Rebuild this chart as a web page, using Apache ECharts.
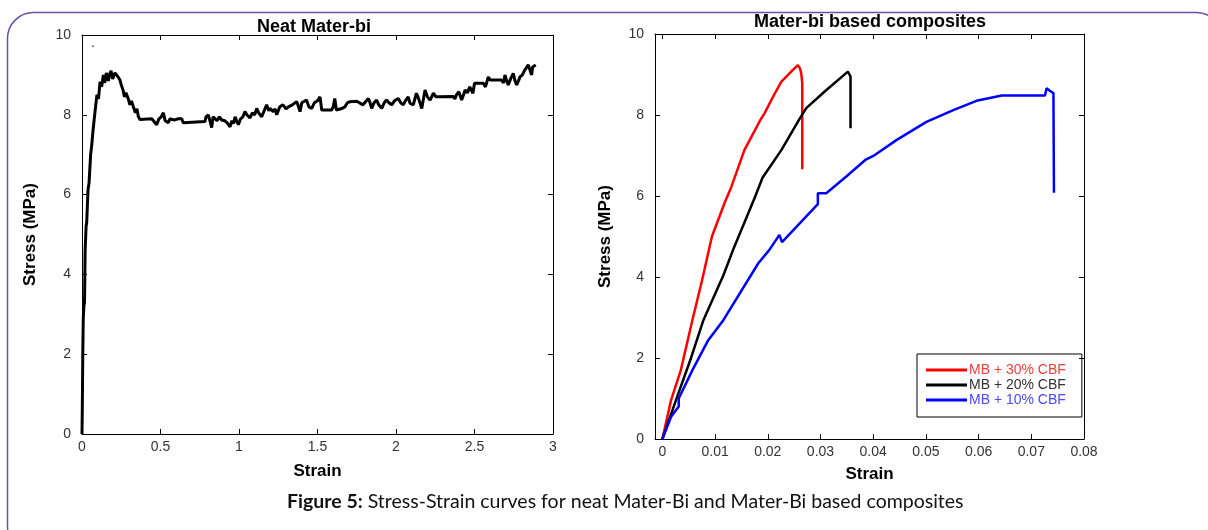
<!DOCTYPE html>
<html>
<head>
<meta charset="utf-8">
<script src="https://cdn.jsdelivr.net/npm/echarts@6/dist/echarts.min.js"></script>
<style>
html,body{margin:0;padding:0;background:#fff;}
#chart{width:1208px;height:530px;}
</style>
</head>
<body>
<div id="chart"></div>
<script>
// ---------- data ----------
const leftTitle = 'Neat Mater-bi';
const rightTitle = 'Mater-bi based composites';
const xAxisTitle = 'Strain';
const yAxisTitle = 'Stress (MPa)';
const captionBold = 'Figure 5:';
const captionText = ' Stress-Strain curves for neat Mater-Bi and Mater-Bi based composites';

const leftXTicks = [0, 0.5, 1, 1.5, 2, 2.5, 3];
const rightXTicks = [0, 0.01, 0.02, 0.03, 0.04, 0.05, 0.06, 0.07, 0.08];
const yTicks = [0, 2, 4, 6, 8, 10];

const seriesNames = ['MB + 30% CBF', 'MB + 20% CBF', 'MB + 10% CBF'];
const seriesColors = ['#ff0000', '#000000', '#0000ff'];
const legendTextColors = ['#e8413a', '#333333', '#4a4af0'];

// neat Mater-bi  [strain, stress MPa]
const neatCurve = [
 [0,0],[0.002,0.05],[0.002,0.65],[0.004,0.7],[0.005,2.0],[0.008,2.9],[0.012,3.2],[0.016,3.3],
 [0.02,4.6],[0.026,5.2],[0.03,5.3],[0.038,6.1],[0.045,6.3],[0.055,7.0],[0.062,7.24],[0.07,7.6],
 [0.083,8.08],[0.095,8.5],[0.105,8.4],[0.115,8.83],[0.125,8.7],[0.136,9.0],[0.145,8.8],[0.155,9.05],
 [0.168,8.85],[0.175,9.0],[0.185,9.1],[0.195,8.9],[0.2,8.85],[0.21,9.05],[0.22,9.0],[0.23,8.95],
 [0.242,8.87],[0.25,8.75],[0.263,8.6],[0.27,8.45],[0.28,8.55],[0.295,8.4],[0.305,8.25],[0.315,8.35],
 [0.327,8.2],[0.34,8.05],[0.35,8.15],[0.359,7.95],[0.37,7.88],[0.38,7.9],[0.444,7.9],[0.455,7.85],
 [0.476,7.75],[0.49,7.9],[0.505,7.95],[0.518,8.05],[0.53,7.85],[0.55,7.8],[0.56,7.9],[0.575,7.88],
 [0.592,7.87],[0.61,7.9],[0.635,7.9],[0.645,7.8],[0.656,7.83],[0.783,7.83],[0.79,7.95],[0.804,8.0],
 [0.815,7.85],[0.826,7.68],[0.835,7.95],[0.847,7.9],[0.86,7.85],[0.875,7.95],[0.89,7.87],[0.91,7.85],
 [0.925,7.8],[0.943,7.7],[0.955,7.85],[0.965,7.78],[0.975,7.95],[0.985,7.85],[0.996,7.75],[1.01,7.9],
 [1.025,7.95],[1.038,8.08],[1.05,8.0],[1.07,7.92],[1.085,8.05],[1.1,8.0],[1.113,8.16],[1.125,8.05],
 [1.145,7.95],[1.16,8.1],[1.176,8.25],[1.19,8.1],[1.197,8.16],[1.218,8.08],[1.23,8.15],[1.24,8.0],
 [1.26,8.2],[1.28,8.25],[1.3,8.15],[1.314,8.2],[1.34,8.25],[1.367,8.33],[1.375,8.25],[1.389,8.08],
 [1.4,8.3],[1.43,8.37],[1.445,8.2],[1.463,8.16],[1.48,8.3],[1.5,8.35],[1.516,8.45],[1.527,8.12],
 [1.59,8.12],[1.6,8.2],[1.61,8.41],[1.62,8.12],[1.65,8.15],[1.675,8.2],[1.69,8.3],[1.707,8.33],
 [1.75,8.34],[1.79,8.25],[1.8,8.3],[1.824,8.41],[1.835,8.3],[1.845,8.16],[1.86,8.3],[1.877,8.37],
 [1.89,8.25],[1.909,8.16],[1.925,8.3],[1.94,8.37],[1.955,8.3],[1.973,8.25],[1.99,8.35],[2.015,8.41],
 [2.03,8.3],[2.046,8.25],[2.06,8.35],[2.078,8.45],[2.089,8.29],[2.11,8.25],[2.13,8.54],[2.14,8.45],
 [2.164,8.16],[2.175,8.4],[2.185,8.62],[2.2,8.45],[2.217,8.37],[2.238,8.54],[2.255,8.45],[2.27,8.45],
 [2.365,8.46],[2.375,8.4],[2.385,8.5],[2.4,8.58],[2.418,8.37],[2.43,8.5],[2.44,8.62],[2.455,8.55],
 [2.47,8.7],[2.49,8.54],[2.5,8.79],[2.556,8.79],[2.57,8.7],[2.578,8.66],[2.588,8.95],[2.6,8.87],
 [2.673,8.87],[2.685,8.8],[2.694,9.0],[2.705,8.85],[2.715,8.75],[2.73,8.9],[2.747,9.04],[2.758,8.85],
 [2.769,8.75],[2.78,8.85],[2.79,8.95],[2.805,9.0],[2.82,9.12],[2.843,9.25],[2.855,9.1],[2.864,9.0],
 [2.87,9.2],[2.875,9.25],[2.89,9.25]
];
const neatStrayDot = [[0.07, 9.72]];

// composites [strain, stress MPa]
const cbf30 = [
 [0,0],[0.00165,0.96],[0.0035,1.70],[0.0057,2.94],[0.0075,3.9],[0.0094,5.0],[0.01178,5.82],
 [0.0131,6.23],[0.01558,7.14],[0.0186,7.88],[0.01938,8.04],[0.021,8.45],[0.02255,8.82],
 [0.0245,9.08],[0.02572,9.23],[0.0261,9.15],[0.02635,9.03],[0.02654,8.79],[0.02654,6.66]
];
const cbf20 = [
 [0,0],[0.0028,1.04],[0.0053,1.95],[0.0078,2.94],[0.0116,4.05],[0.0135,4.7],[0.0175,5.95],
 [0.019,6.45],[0.0226,7.14],[0.026,7.9],[0.0273,8.17],[0.0308,8.58],[0.0352,9.07],
 [0.0357,8.95],[0.0357,7.67]
];
const cbf10 = [
 [0,0],[0.00165,0.55],[0.0031,0.8],[0.0031,1.0],[0.0057,1.70],[0.0087,2.44],[0.0116,2.94],
 [0.0182,4.34],[0.0203,4.67],[0.0222,5.04],[0.0227,4.86],[0.0295,5.80],[0.0295,6.07],
 [0.0311,6.07],[0.0349,6.48],[0.0385,6.89],[0.0403,7.01],[0.0444,7.38],[0.0501,7.83],
 [0.0552,8.12],[0.0596,8.35],[0.0644,8.48],[0.0726,8.48],[0.0729,8.66],[0.0735,8.6],
 [0.0742,8.54],[0.0743,6.08]
];

// ---------- chart ----------
const FONT = 'Liberation Sans';
const chart = echarts.init(document.getElementById('chart'), null, {renderer: 'canvas'});

function boxAxis(gridIndex, pos, min, max, ticks, showLabel, name, nameGap) {
  const isX = pos === 'bottom' || pos === 'top';
  const ax = {
    type: 'value', gridIndex: gridIndex, position: pos, min: min, max: max,
    axisLine: {show: true, onZero: false, lineStyle: {color: '#000', width: 1}},
    axisTick: {show: true, inside: true, length: 5, lineStyle: {color: '#000'}, customValues: ticks},
    axisLabel: {show: showLabel, color: '#333', fontSize: 14, fontFamily: FONT,
                margin: isX ? 6 : 11, customValues: ticks, formatter: v => String(v)},
    splitLine: {show: false}
  };
  if (name) {
    ax.name = name; ax.nameLocation = 'middle'; ax.nameGap = nameGap;
    ax.nameTextStyle = {fontSize: 17, fontWeight: 'bold', color: '#000', fontFamily: FONT};
    if (!isX) ax.nameRotate = 90;
  }
  return ax;
}

const legendData = seriesNames.map((n, i) => ({name: n, textStyle: {color: legendTextColors[i]}}));

const option = {
  backgroundColor: '#fff',
  animation: false,
  title: [
    {text: leftTitle, left: 314, top: 18, textAlign: 'center', padding: 0,
     textStyle: {fontSize: 18, fontWeight: 'bold', color: '#000', fontFamily: FONT}},
    {text: rightTitle, left: 870, top: 13, textAlign: 'center', padding: 0,
     textStyle: {fontSize: 18, fontWeight: 'bold', color: '#000', fontFamily: FONT}}
  ],
  grid: [
    {left: 82, top: 35, width: 471, height: 399},
    {left: 655, top: 34, width: 429, height: 405}
  ],
  xAxis: [
    boxAxis(0, 'bottom', 0, 3, leftXTicks, true, xAxisTitle, 29),
    boxAxis(0, 'top', 0, 3, leftXTicks, false),
    boxAxis(1, 'bottom', -0.0014, 0.08, rightXTicks, true, xAxisTitle, 27),
    boxAxis(1, 'top', -0.0014, 0.08, rightXTicks, false)
  ],
  yAxis: [
    boxAxis(0, 'left', 0, 10, yTicks, true, yAxisTitle, 43),
    boxAxis(0, 'right', 0, 10, yTicks, false),
    boxAxis(1, 'left', 0, 10, yTicks, true, yAxisTitle, 41),
    boxAxis(1, 'right', 0, 10, yTicks, false)
  ],
  legend: {
    data: legendData,
    orient: 'vertical',
    left: 917, top: 354,
    padding: [9, 16, 10, 9],
    itemGap: 1,
    itemWidth: 41, itemHeight: 3,
    icon: 'rect',
    borderColor: '#000', borderWidth: 1,
    textStyle: {fontSize: 14, fontFamily: FONT, padding: [0, 0, 0, -3]},
    selectedMode: false
  },
  series: [
    {type: 'line', name: 'Neat Mater-bi', xAxisIndex: 0, yAxisIndex: 0, data: neatCurve,
     showSymbol: false, symbol: 'none', lineStyle: {color: '#000', width: 3}, itemStyle: {color: '#000'}},
    {type: 'scatter', name: 'dot', xAxisIndex: 0, yAxisIndex: 0, data: neatStrayDot,
     symbolSize: 2, itemStyle: {color: '#444'}},
    {type: 'line', name: seriesNames[0], xAxisIndex: 2, yAxisIndex: 2, data: cbf30,
     symbol: 'none', lineStyle: {color: seriesColors[0], width: 2.5}, itemStyle: {color: seriesColors[0]}},
    {type: 'line', name: seriesNames[1], xAxisIndex: 2, yAxisIndex: 2, data: cbf20,
     symbol: 'none', lineStyle: {color: seriesColors[1], width: 2.5}, itemStyle: {color: seriesColors[1]}},
    {type: 'line', name: seriesNames[2], xAxisIndex: 2, yAxisIndex: 2, data: cbf10,
     symbol: 'none', lineStyle: {color: seriesColors[2], width: 2.5}, itemStyle: {color: seriesColors[2]}}
  ],
  graphic: [
    {type: 'rect', z: -10, silent: true,
     shape: {x: 7.5, y: 12.5, width: 1215, height: 540, r: 26},
     style: {fill: 'none', stroke: '#6c4fa8', lineWidth: 1.5}},
    {type: 'text', left: 287, top: 492, silent: true,
     style: {
       text: '{b|' + captionBold + '}{n|' + captionText + '}',
       rich: {
         b: {fontFamily: 'Lato', fontSize: 19.5, fontWeight: 'bold', fill: '#111'},
         n: {fontFamily: 'Lato', fontSize: 19.5, fill: '#111'}
       }
     }}
  ]
};
chart.setOption(option);
</script>
</body>
</html>
